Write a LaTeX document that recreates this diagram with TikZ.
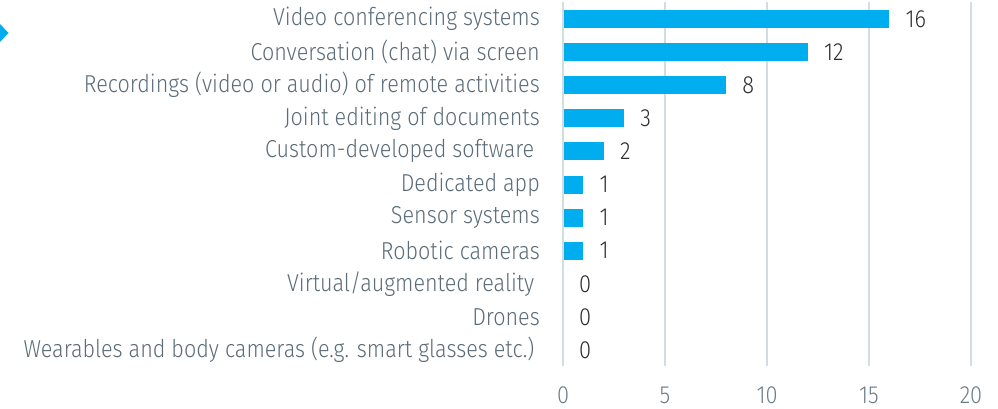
\documentclass[tikz,border=0pt]{standalone}
\usepackage{fontspec}
\setmainfont{Fira Sans Light}[FakeStretch=0.88]
\definecolor{barblue}{HTML}{00AEEF}
\definecolor{gridc}{HTML}{D3DCE1}
\definecolor{lblc}{HTML}{5B6C78}
\definecolor{valc}{HTML}{2E2E2E}
\definecolor{tickc}{HTML}{6E7E88}
\tikzset{
  bar/.style={fill=barblue, draw=none},
  grid line/.style={draw=gridc, line width=1.6pt},
  cat/.style={anchor=east, text=lblc, font=\fontsize{24.5}{27}\selectfont, inner sep=0pt},
  val/.style={anchor=west, text=valc, font=\fontsize{24.8}{27}\selectfont, inner sep=0pt},
  tick/.style={anchor=center, text=tickc, font=\fontsize{24.8}{27}\selectfont, inner sep=0pt},
}
\begin{document}
\begin{tikzpicture}[x=1pt,y=-1pt]
\useasboundingbox (0,0) rectangle (998,408);
% marker
\fill[barblue] (0,24) -- (8.5,33) -- (0,42) -- cycle;
% grid
\foreach \v [count=\k from 0] in {0,5,10,15,20} {
  \draw[grid line] ({563+20.4*\v},2) -- ({563+20.4*\v},366);
  \node[tick] (t\k) at ({563+20.4*\v},395) {\v};
}
% bars
\foreach \lab/\val [count=\i from 0] in {
  {Video conferencing systems}/16,
  {Conversation (chat) via screen}/12,
  {Recordings (video or audio) of remote activities}/8,
  {Joint editing of documents}/3,
  {Custom-developed software\kern5.5pt}/2,
  {Dedicated app}/1,
  {Sensor systems}/1,
  {Robotic cameras}/1,
  {Virtual/augmented reality\kern5.5pt}/0,
  {Drones}/0,
  {Wearables and body cameras (e.g. smart glasses etc.)\kern5.5pt}/0} {
  \pgfmathsetmacro{\yc}{19+33.1*\i}
  \ifnum\val>0
    \fill[bar] (564,\yc-9) rectangle ({563+20.4*\val},\yc+9);
  \fi
  \node[cat] (c\i) at (540,\yc) {\lab};
  \node[val] (v\i) at ({563+20.4*\val+16},\yc) {\val};
}
\end{tikzpicture}
\end{document}
